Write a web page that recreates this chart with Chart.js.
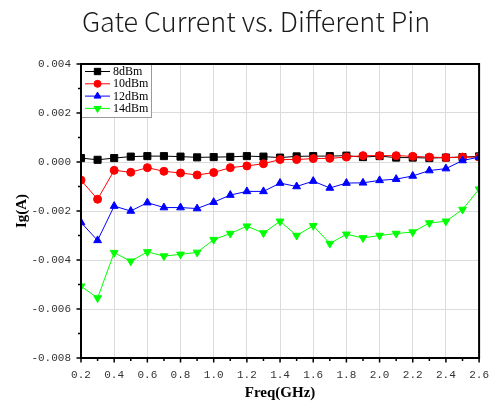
<!DOCTYPE html>
<html>
<head>
<meta charset="utf-8">
<script src="https://cdn.jsdelivr.net/npm/chart.js@4.4.1/dist/chart.umd.min.js"></script>
<style>
  html, body { margin: 0; padding: 0; background: #fff; }
  #wrap { width: 495px; height: 403px; position: relative; }
</style>
</head>
<body>
<div id="wrap"><canvas id="c"></canvas></div>
<script>
// Frequency sweep (GHz)
const freqGHz = [0.2, 0.3, 0.4, 0.5, 0.6, 0.7, 0.8, 0.9, 1.0, 1.1, 1.2, 1.3, 1.4,
                 1.5, 1.6, 1.7, 1.8, 1.9, 2.0, 2.1, 2.2, 2.3, 2.4, 2.5, 2.6];

// Gate current Ig (A) for each input power level
const ig8dBm  = [0.00016, 0.00009, 0.00016, 0.00022, 0.00024, 0.00024, 0.00022, 0.00019, 0.00020,
                 0.00021, 0.00024, 0.00022, 0.00018, 0.00023, 0.00024, 0.00024, 0.00026, 0.00020,
                 0.00024, 0.00018, 0.00018, 0.00016, 0.00018, 0.00020, 0.00023];
const ig10dBm = [-0.00074, -0.00152, -0.00034, -0.00042, -0.00023, -0.00038, -0.00045, -0.00053, -0.00043,
                 -0.00023, -0.00016, -0.00007, 0.00010, 0.00010, 0.00014, 0.00015, 0.00020, 0.00026,
                 0.00026, 0.00026, 0.00023, 0.00020, 0.00018, 0.00020, 0.00020];
const ig12dBm = [-0.00247, -0.00320, -0.00180, -0.00200, -0.00166, -0.00186, -0.00186, -0.00190, -0.00164,
                 -0.00135, -0.00120, -0.00120, -0.00086, -0.00100, -0.00078, -0.00106, -0.00086, -0.00085,
                 -0.00075, -0.00070, -0.00057, -0.00035, -0.00027, 0.00006, 0.00020];
const ig14dBm = [-0.00507, -0.00555, -0.00370, -0.00405, -0.00367, -0.00384, -0.00377, -0.00369, -0.00317,
                 -0.00292, -0.00262, -0.00290, -0.00242, -0.00300, -0.00260, -0.00333, -0.00295, -0.00310,
                 -0.00300, -0.00292, -0.00286, -0.00249, -0.00242, -0.00194, -0.00111];

const seriesNames = ['8dBm', '10dBm', '12dBm', '14dBm'];
const chartTitle = 'Gate Current vs. Different Pin';

// Labelled (major) ticks on each axis
const xMajorTicks = [0.2, 0.4, 0.6, 0.8, 1.0, 1.2, 1.4, 1.6, 1.8, 2.0, 2.2, 2.4, 2.6];
const yMajorTicks = [-0.008, -0.006, -0.004, -0.002, 0.000, 0.002, 0.004];

const toPoints = arr => arr.map((v, i) => ({ x: freqGHz[i], y: v }));

const styles = [
  { color: '#000000', pointStyle: 'rect',     radius: 5,   rotation: 0 },
  { color: '#ff0000', pointStyle: 'circle',   radius: 4,   rotation: 0 },
  { color: '#0000ff', pointStyle: 'triangle', radius: 4.5, rotation: 0 },
  { color: '#00ff00', pointStyle: 'triangle', radius: 4.5, rotation: 180 }
];

const allSeries = [ig8dBm, ig10dBm, ig12dBm, ig14dBm];
const datasets = allSeries.map((arr, i) => ({
  label: seriesNames[i],
  data: toPoints(arr),
  borderColor: styles[i].color,
  backgroundColor: styles[i].color,
  pointBackgroundColor: styles[i].color,
  pointBorderColor: styles[i].color,
  pointStyle: styles[i].pointStyle,
  pointRotation: styles[i].rotation,
  pointRadius: styles[i].radius,
  pointHoverRadius: styles[i].radius,
  pointBorderWidth: 1,
  borderWidth: 1,
  tension: 0,
  clip: 0,
  order: allSeries.length - i
}));

// minor ticks sit half-way between major ticks
const midpoints = arr => arr.slice(1).map((v, i) => (v + arr[i]) / 2);

function drawMarker(ctx, style, x, y) {
  const h = Chart.helpers;
  if (h && h.drawPoint) {
    h.drawPoint(ctx, { pointStyle: style.pointStyle, rotation: style.rotation, radius: style.radius, borderWidth: 1 }, x, y);
    return;
  }
  ctx.beginPath();
  ctx.arc(x, y, style.radius, 0, Math.PI * 2);
  ctx.fill();
}

// Heading centred over the page
const headingPlugin = {
  id: 'headingPlugin',
  afterDraw(chart) {
    const { ctx } = chart;
    ctx.save();
    ctx.fillStyle = '#1a1a1a';
    ctx.font = '300 27px "Noto Sans CJK SC", "Noto Sans", sans-serif';
    ctx.textAlign = 'center';
    ctx.textBaseline = 'middle';
    ctx.fillText(chartTitle, 256, 22);
    ctx.restore();
  }
};

// Plot frame, outward tick marks and the boxed legend in the upper-left corner
const framePlugin = {
  id: 'framePlugin',
  afterDatasetsDraw(chart) {
    const { ctx, chartArea: a, scales: { x, y } } = chart;
    ctx.save();

    // legend box
    const bx = a.left, by = a.top, bw = 70, bh = 53;
    ctx.fillStyle = '#ffffff';
    ctx.fillRect(bx, by, bw, bh);
    ctx.strokeStyle = '#9a9a9a';
    ctx.lineWidth = 1;
    ctx.strokeRect(bx + 0.5, by + 0.5, bw, bh);
    ctx.font = '12px "Liberation Serif"';
    ctx.textBaseline = 'middle';
    ctx.textAlign = 'left';
    chart.data.datasets.forEach((ds, i) => {
      const st = styles[i];
      const ly = by + 7.5 + i * 12.3;
      ctx.strokeStyle = st.color;
      ctx.fillStyle = st.color;
      ctx.lineWidth = 1;
      ctx.beginPath();
      ctx.moveTo(bx + 4, ly);
      ctx.lineTo(bx + 29, ly);
      ctx.stroke();
      drawMarker(ctx, { pointStyle: st.pointStyle, rotation: st.rotation, radius: st.radius - 0.5 }, bx + 16.5, ly);
      ctx.fillStyle = '#000';
      ctx.fillText(ds.label, bx + 32, ly + 0.5);
    });

    // frame
    ctx.strokeStyle = '#000';
    ctx.lineWidth = 2;
    ctx.beginPath();
    ctx.moveTo(a.left, a.top);
    ctx.lineTo(a.right, a.top);
    ctx.lineTo(a.right, a.bottom);
    ctx.lineTo(a.left, a.bottom);
    ctx.closePath();
    ctx.stroke();

    // ticks
    ctx.lineWidth = 1.5;
    ctx.beginPath();
    xMajorTicks.forEach(v => { const px = x.getPixelForValue(v); ctx.moveTo(px, a.bottom); ctx.lineTo(px, a.bottom + 4.5); });
    midpoints(xMajorTicks).forEach(v => { const px = x.getPixelForValue(v); ctx.moveTo(px, a.bottom); ctx.lineTo(px, a.bottom + 3); });
    yMajorTicks.forEach(v => { const py = y.getPixelForValue(v); ctx.moveTo(a.left, py); ctx.lineTo(a.left - 4.5, py); });
    midpoints(yMajorTicks).forEach(v => { const py = y.getPixelForValue(v); ctx.moveTo(a.left, py); ctx.lineTo(a.left - 3, py); });
    ctx.stroke();
    ctx.restore();
  }
};

const tickFont = { family: '"Liberation Mono", monospace', size: 11 };
const titleFont = { family: '"Liberation Serif", serif', size: 15, weight: 'bold' };

new Chart(document.getElementById('c'), {
  type: 'line',
  data: { datasets },
  options: {
    responsive: true,
    maintainAspectRatio: false,
    animation: false,
    layout: { padding: { left: 0, right: 12, top: 64, bottom: 0 } },
    plugins: {
      legend: { display: false },
      tooltip: { enabled: false },
      title: { display: false }
    },
    scales: {
      x: {
        type: 'linear',
        min: 0.2,
        max: 2.6,
        afterBuildTicks: s => { s.ticks = xMajorTicks.map(v => ({ value: v })); },
        afterFit: s => { s.height = 45; },
        ticks: {
          color: '#333',
          font: tickFont,
          padding: 6,
          maxRotation: 0,
          autoSkip: false,
          callback: v => Number(v).toFixed(1)
        },
        grid: { color: '#dcdcdc', lineWidth: 1, tickLength: 4, tickColor: 'rgba(0,0,0,0)' },
        border: { display: false },
        title: { display: true, text: 'Freq(GHz)', color: '#000', font: titleFont, padding: { top: 0, bottom: 1 } }
      },
      y: {
        type: 'linear',
        min: -0.008,
        max: 0.004,
        afterBuildTicks: s => { s.ticks = yMajorTicks.map(v => ({ value: v })); },
        afterFit: s => { s.width = 81; },
        ticks: {
          color: '#333',
          font: tickFont,
          padding: 6,
          autoSkip: false,
          callback: v => Number(v).toFixed(3)
        },
        grid: { color: '#dcdcdc', lineWidth: 1, tickLength: 4, tickColor: 'rgba(0,0,0,0)' },
        border: { display: false },
        title: { display: true, text: 'Ig(A)', color: '#000', font: titleFont, padding: { top: 13, bottom: 0 } }
      }
    }
  },
  plugins: [framePlugin, headingPlugin]
});
</script>
</body>
</html>
